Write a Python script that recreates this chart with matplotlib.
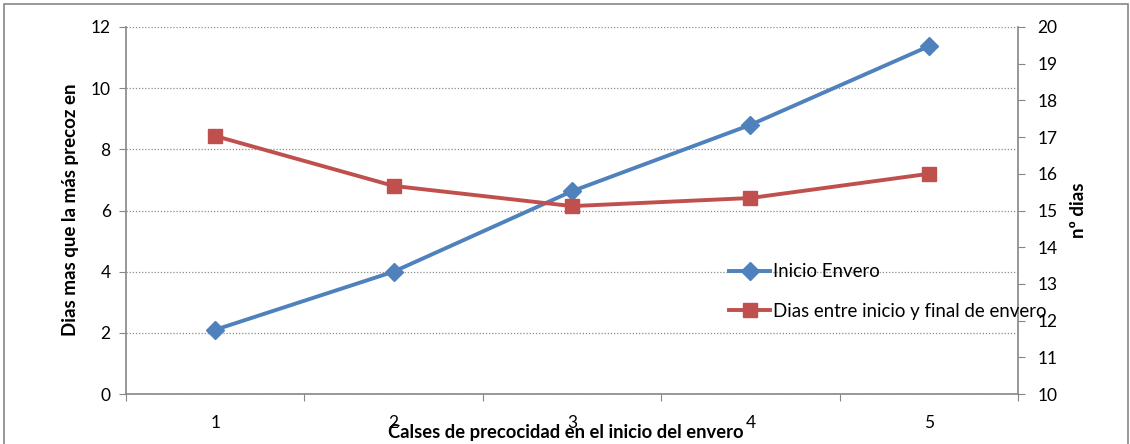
import matplotlib.pyplot as plt
from matplotlib.patches import Rectangle
import matplotlib.ticker as mtick

plt.rcParams['font.family'] = ['Lato', 'DejaVu Sans']

clases = [1, 2, 3, 4, 5]
inicio_envero = [2.1, 4.0, 6.63, 8.8, 11.37]
dias_envero = [17.03, 15.67, 15.12, 15.34, 16.0]

azul = '#4F81BD'
rojo = '#C0504D'
gris = '#868686'

fig = plt.figure(figsize=(11.3, 4.44), dpi=100, facecolor='white')
ax = fig.add_axes([0.1115, 0.1126, 0.7894, 0.8266])
ax2 = ax.twinx()

# marco exterior del gráfico
fig.patches.append(Rectangle((4 / 1130, -0.05), 1124 / 1130, 1.05 - 4 / 444,
                             transform=fig.transFigure, fill=False,
                             edgecolor=gris, linewidth=1.2))

l1, = ax.plot(clases, inicio_envero, color=azul, linewidth=2.8, marker='D',
              markersize=9, label='Inicio Envero', zorder=3)
l2, = ax2.plot(clases, dias_envero, color=rojo, linewidth=2.8, marker='s',
               markersize=10.5, label='Dias entre inicio y final de envero', zorder=3)

ax.set_xlim(0.5, 5.5)
ax.set_ylim(0, 12)
ax2.set_ylim(10, 20)
ax.set_yticks(range(0, 13, 2))
ax2.set_yticks(range(10, 21))

# ticks del eje x entre categorías, etiquetas en el centro
ax.set_xticks([0.5, 1.5, 2.5, 3.5, 4.5, 5.5])
ax.set_xticklabels([])
ax.xaxis.set_minor_locator(mtick.FixedLocator(clases))
ax.set_xticklabels([str(c) for c in clases], minor=True)
ax.tick_params(axis='x', which='minor', length=0, pad=15, labelsize=12.5)
ax.tick_params(axis='x', which='major', length=5, color=gris, direction='out')
ax.tick_params(axis='y', length=5, color=gris, labelsize=12.5, pad=6)
ax2.tick_params(axis='y', length=5, color=gris, labelsize=12.5, pad=9)

ax.grid(axis='y', linestyle=(0, (1, 1.5)), color='#8c8c8c', linewidth=0.9)
ax.set_axisbelow(True)

for a in (ax, ax2):
    a.spines['top'].set_visible(False)
    for s in ('left', 'right', 'bottom'):
        a.spines[s].set_color(gris)
        a.spines[s].set_linewidth(1.2)
ax.spines['right'].set_visible(False)
ax2.spines['left'].set_visible(False)
ax2.spines['bottom'].set_visible(False)

fig.text(0.062, 0.527, 'Dias mas que la más precoz en', rotation=90, ha='center',
         va='center', fontsize=13.5, fontweight='bold')
fig.text(0.954, 0.527, 'nº dias', rotation=90, ha='center', va='center',
         fontsize=13.5, fontweight='bold')
fig.text(0.501, 0.027, 'Calses de precocidad en el inicio del envero', ha='center',
         va='center', fontsize=13.2, fontweight='bold')

leg = ax2.legend([l1, l2], [l1.get_label(), l2.get_label()], loc='upper left',
                 bbox_to_anchor=(720 / 1130, 1 - 254 / 444), bbox_transform=fig.transFigure,
                 frameon=False, fontsize=13.4, handlelength=2.2, handletextpad=0.15,
                 labelspacing=1.2, borderpad=0)

fig.savefig('out.png', dpi=100, facecolor='white')
